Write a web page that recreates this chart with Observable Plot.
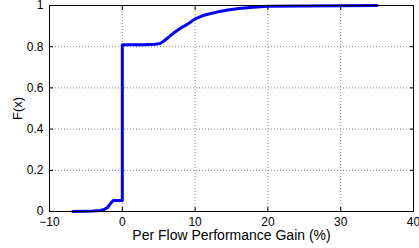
<!DOCTYPE html>
<html><head><meta charset="utf-8">
<script src="https://cdn.jsdelivr.net/npm/d3@7"></script>
<script src="https://cdn.jsdelivr.net/npm/@observablehq/plot@0.6"></script>
<style>
body{margin:0;background:#fff;}
svg{font-family:"Liberation Sans",Arial,Helvetica,sans-serif;}
</style></head>
<body><div id="chart"></div>
<script>
const gain = [-6.8, -5, -4, -3, -2.5, -2, -1.7, -1.4, -1.2, -0.3, 0, 0, 1, 3, 4.5, 5.2, 5.8, 6.5, 7, 8, 9, 10, 11, 12, 13, 14.5, 16, 18, 20, 25, 30, 35];
const cdf = [0, 0.001, 0.002, 0.005, 0.01, 0.02, 0.035, 0.048, 0.053, 0.053, 0.053, 0.81, 0.81, 0.81, 0.812, 0.815, 0.83, 0.85, 0.865, 0.89, 0.91, 0.935, 0.95, 0.96, 0.968, 0.978, 0.985, 0.992, 0.996, 0.998, 0.999, 1.0];
const xTicks = [-10, 0, 10, 20, 30, 40];
const yTicks = [0, 0.2, 0.4, 0.6, 0.8, 1];
const data = gain.map((g, i) => ({x: g, y: cdf[i]}));
const fmtX = d => d < 0 ? "\u2212" + Math.abs(d) : String(d);
const grid = {stroke: "#888", strokeOpacity: 1, strokeDasharray: "1,2", strokeWidth: 1};
const chart = Plot.plot({
  width: 419, height: 248,
  marginLeft: 49, marginRight: 6, marginTop: 5, marginBottom: 37,
  style: {fontSize: "12px", color: "#000", background: "#fff"},
  x: {domain: [-10, 40]},
  y: {domain: [0, 1]},
  marks: [
    Plot.gridX(xTicks, grid),
    Plot.gridY(yTicks, grid),
    Plot.line(data, {x: "x", y: "y", stroke: "#0000ff", strokeWidth: 3}),
    Plot.frame({stroke: "#000", strokeWidth: 1}),
    Plot.axisX(xTicks, {anchor: "bottom", tickSize: -4, tickFormat: fmtX, tickPadding: 9.5, fontSize: 12, label: null}),
    Plot.axisX(xTicks, {anchor: "bottom", tickSize: 0, text: null, label: "Per Flow Performance Gain (%)", labelAnchor: "center", labelArrow: "none", labelOffset: 28, fontSize: 14}),
    Plot.axisX(xTicks, {anchor: "top", tickSize: -4, text: null, label: null}),
    Plot.axisY(yTicks, {anchor: "left", tickSize: -4, tickFormat: d => String(d), tickPadding: 10, fontSize: 12, label: null}),
    Plot.axisY(yTicks, {anchor: "left", tickSize: 0, text: null, label: "F(x)", labelAnchor: "center", labelArrow: "none", labelOffset: 37, fontSize: 13}),
    Plot.axisY(yTicks, {anchor: "right", tickSize: -4, text: null, label: null})
  ]
});
document.getElementById("chart").appendChild(chart);
</script></body></html>
